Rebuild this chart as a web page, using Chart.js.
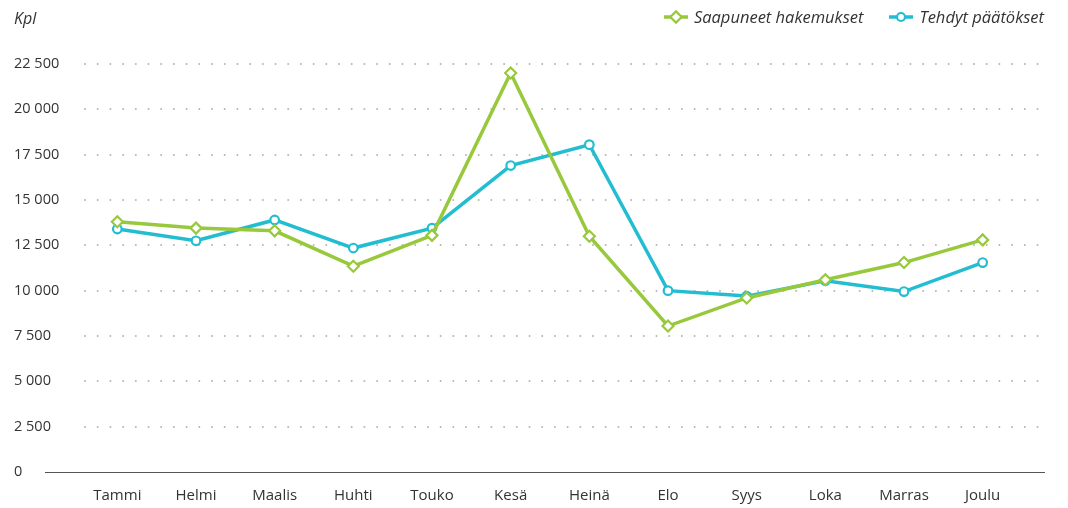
<!DOCTYPE html>
<html>
<head>
<meta charset="utf-8">
<script src="https://cdn.jsdelivr.net/npm/chart.js@4"></script>
<style>
  html, body { margin: 0; padding: 0; background: #fff; }
  #wrap { position: relative; width: 1068px; height: 508px; font-family: "Open Sans", sans-serif; }
  #unit { position: absolute; left: 14px; top: 7px; font-size: 16px; font-style: italic; color: #333; }
  #legend { position: absolute; right: 24px; top: 5px; display: flex; gap: 26px; font-size: 16.5px; font-style: italic; color: #333; }
  #legend .item { display: flex; align-items: center; gap: 6px; }
</style>
</head>
<body>
<div id="wrap">
  <canvas id="chart" width="1068" height="508"></canvas>
  <div id="unit">Kpl</div>
  <div id="legend"></div>
</div>
<script>
// ── data ──
const months   = ["Tammi","Helmi","Maalis","Huhti","Touko","Kesä","Heinä","Elo","Syys","Loka","Marras","Joulu"];
const received = [13800, 13450, 13300, 11350, 13050, 22000, 13000, 8050, 9600, 10600, 11550, 12800];
const decided  = [13400, 12750, 13900, 12350, 13450, 16900, 18050, 10000, 9700, 10550, 9950, 11550];
const yTicks   = [0, 2500, 5000, 7500, 10000, 12500, 15000, 17500, 20000, 22500];

const C_GREEN = "#98c93c";
const C_BLUE  = "#22bdd0";
const TXT     = "#333333";

const fmt = (n) => String(n).replace(/\B(?=(\d{3})+(?!\d))/g, " ");

// ── HTML legend (line + marker) ──
const legendItems = [
  { label: "Saapuneet hakemukset", color: C_GREEN, marker: "diamond" },
  { label: "Tehdyt päätökset",     color: C_BLUE,  marker: "circle" },
];
document.getElementById("legend").innerHTML = legendItems.map((it) => {
  const m = it.marker === "diamond"
    ? `<rect x="8" y="4" width="8" height="8" transform="rotate(45 12 8)" fill="#fff" stroke="${it.color}" stroke-width="2.2"/>`
    : `<circle cx="12" cy="8" r="4" fill="#fff" stroke="${it.color}" stroke-width="2.2"/>`;
  return `<div class="item"><svg width="24" height="16"><line x1="0" y1="8" x2="24" y2="8" stroke="${it.color}" stroke-width="3.5"/>${m}</svg><span>${it.label}</span></div>`;
}).join("");

// ── dotted gridlines + baseline, drawn wider than the category area ──
const gridPlugin = {
  id: "dotGrid",
  beforeDatasetsDraw(chart) {
    const { ctx, chartArea: a, scales: { y } } = chart;
    ctx.save();
    ctx.fillStyle = "#b5b5b5";
    yTicks.forEach((v) => {
      if (v === 0) return;
      const py = Math.round(y.getPixelForValue(v));
      for (let x = a.left + 7; x <= a.right + 16; x += 12.7) {
        ctx.beginPath();
        ctx.arc(x, py, 1, 0, Math.PI * 2);
        ctx.fill();
      }
    });
    const by = Math.round(y.getPixelForValue(0)) + 0.5;
    ctx.strokeStyle = "#555";
    ctx.lineWidth = 1;
    ctx.beginPath();
    ctx.moveTo(a.left - 33, by);
    ctx.lineTo(a.right + 23, by);
    ctx.stroke();
    ctx.restore();
  },
};

Chart.defaults.font.family = "'Open Sans', sans-serif";
Chart.defaults.color = TXT;

new Chart(document.getElementById("chart"), {
  type: "line",
  data: {
    labels: months,
    datasets: [
      {
        label: "Saapuneet hakemukset",
        data: received,
        borderColor: C_GREEN,
        borderWidth: 3.5,
        pointStyle: "rectRot",
        pointRadius: 5.5,
        pointBorderWidth: 2.2,
        pointBackgroundColor: "#fff",
        pointBorderColor: C_GREEN,
        tension: 0,
      },
      {
        label: "Tehdyt päätökset",
        data: decided,
        borderColor: C_BLUE,
        borderWidth: 3.5,
        pointStyle: "circle",
        pointRadius: 4.3,
        pointBorderWidth: 2.2,
        pointBackgroundColor: "#fff",
        pointBorderColor: C_BLUE,
        tension: 0,
      },
    ],
  },
  options: {
    responsive: false,
    animation: false,
    layout: { padding: { left: 14, right: 46, top: 64, bottom: 0 } },
    plugins: { legend: { display: false }, tooltip: { enabled: false } },
    scales: {
      x: {
        offset: true,
        afterFit: (s) => { s.height = 36; },
        grid: { display: false, drawTicks: false },
        border: { display: false },
        ticks: { padding: 15, font: { size: 15 }, color: TXT },
      },
      y: {
        min: 0,
        max: 22500,
        afterBuildTicks: (s) => { s.ticks = yTicks.map((v) => ({ value: v })); },
        afterFit: (s) => { s.width = 64; },
        grid: { display: false, drawTicks: false },
        border: { display: false },
        ticks: {
          crossAlign: "far",
          padding: 0,
          font: { size: 14.5 },
          color: TXT,
          callback: (v) => fmt(v),
        },
      },
    },
  },
  plugins: [gridPlugin],
});
</script>
</body>
</html>
